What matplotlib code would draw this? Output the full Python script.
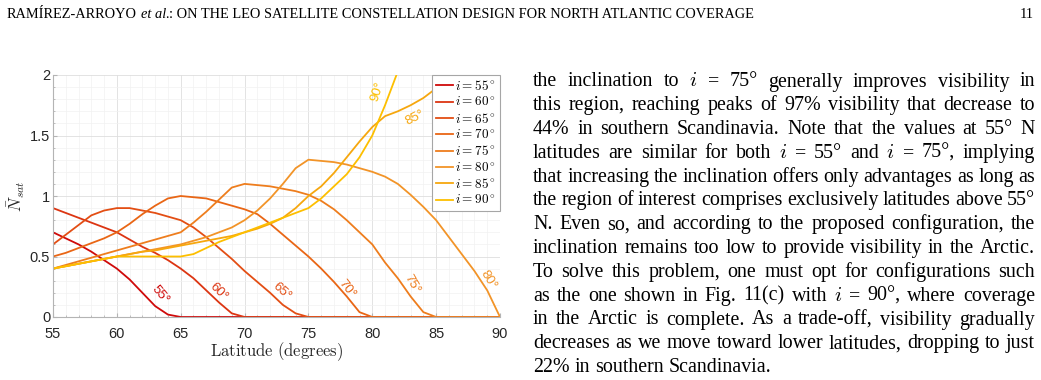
import matplotlib
matplotlib.use('Agg')
import matplotlib.pyplot as plt
from matplotlib.ticker import MultipleLocator, FuncFormatter

plt.rcParams['mathtext.fontset'] = 'cm'

# ---- data ----
lat = [55, 56, 57, 58, 59, 60, 61, 62, 63, 64, 65, 66, 67, 68, 69, 70, 71, 72,
       73, 74, 75, 76, 77, 78, 79, 80, 81, 82, 83, 84, 85, 86, 87, 88, 89, 90]

inclinations = [55, 60, 65, 70, 75, 80, 85, 90]

n_i55 = [0.70, 0.65, 0.60, 0.54, 0.47, 0.40, 0.31, 0.20, 0.09, 0.02, 0, 0, 0, 0, 0, 0, 0, 0,
         0, 0, 0, 0, 0, 0, 0, 0, 0, 0, 0, 0, 0, 0, 0, 0, 0, 0]
n_i60 = [0.90, 0.86, 0.82, 0.78, 0.74, 0.70, 0.64, 0.58, 0.53, 0.47, 0.40, 0.32, 0.22, 0.12, 0.03, 0, 0, 0,
         0, 0, 0, 0, 0, 0, 0, 0, 0, 0, 0, 0, 0, 0, 0, 0, 0, 0]
n_i65 = [0.60, 0.68, 0.76, 0.84, 0.88, 0.90, 0.90, 0.88, 0.86, 0.83, 0.80, 0.74, 0.66, 0.57, 0.48, 0.38, 0.29, 0.20,
         0.10, 0.03, 0, 0, 0, 0, 0, 0, 0, 0, 0, 0, 0, 0, 0, 0, 0, 0]
n_i70 = [0.50, 0.53, 0.57, 0.61, 0.65, 0.70, 0.77, 0.85, 0.92, 0.98, 1.00, 0.99, 0.98, 0.95, 0.92, 0.89, 0.85, 0.77,
         0.68, 0.59, 0.50, 0.40, 0.29, 0.17, 0.04, 0, 0, 0, 0, 0, 0, 0, 0, 0, 0, 0]
n_i75 = [0.40, 0.43, 0.46, 0.49, 0.52, 0.55, 0.58, 0.61, 0.64, 0.67, 0.70, 0.78, 0.87, 0.97, 1.07, 1.10, 1.09, 1.08,
         1.06, 1.04, 1.01, 0.96, 0.89, 0.80, 0.70, 0.60, 0.45, 0.32, 0.17, 0.04, 0, 0, 0, 0, 0, 0]
n_i80 = [0.40, 0.42, 0.44, 0.46, 0.48, 0.50, 0.52, 0.54, 0.56, 0.58, 0.60, 0.63, 0.66, 0.70, 0.74, 0.80, 0.88, 0.98,
         1.10, 1.23, 1.30, 1.29, 1.28, 1.26, 1.23, 1.20, 1.16, 1.10, 1.01, 0.91, 0.80, 0.66, 0.52, 0.38, 0.22, 0.00]
n_i85 = [0.40, 0.42, 0.44, 0.46, 0.48, 0.50, 0.52, 0.54, 0.55, 0.57, 0.59, 0.61, 0.63, 0.65, 0.67, 0.70, 0.73, 0.77,
         0.82, 0.90, 1.00, 1.08, 1.19, 1.32, 1.45, 1.57, 1.66, 1.70, 1.75, 1.81, 1.89, 1.95, 2.01, 2.07, 2.12, 2.17]
n_i90 = [0.40, 0.42, 0.44, 0.46, 0.48, 0.50, 0.50, 0.50, 0.50, 0.50, 0.50, 0.52, 0.57, 0.62, 0.66, 0.70, 0.74, 0.78,
         0.82, 0.86, 0.90, 0.98, 1.08, 1.18, 1.32, 1.50, 1.75, 2.03, 2.35, 2.70, 3.05, 3.45, 3.90, 4.40, 4.95, 5.55]

series = [n_i55, n_i60, n_i65, n_i70, n_i75, n_i80, n_i85, n_i90]
colors = ['#cf0a0a', '#dc3512', '#e34e14', '#e96615', '#ee7d1d', '#f29428', '#f6a70e', '#fdbf00']

# in-plot curve labels: (latitude, value, rotation)
curve_labels = [(63.4, 0.18, -50), (68.0, 0.21, -45), (72.9, 0.21, -42), (78.0, 0.23, -52),
                (83.1, 0.27, -60), (89.1, 0.31, -58), (83.3, 1.65, 27), (80.4, 1.86, 72)]

W, H = 1041, 380
fig = plt.figure(figsize=(W / 100, H / 100), dpi=100)

ax = fig.add_axes([53 / W, 1 - 317 / H, 447 / W, 242 / H])
for inc, vals, col in zip(inclinations, series, colors):
    ax.plot(lat, vals, color=col, lw=1.3, label=r'$i = %d^\circ$' % inc)

ax.set_xlim(55, 90)
ax.set_ylim(0, 2)
ax.xaxis.set_major_locator(MultipleLocator(5))
ax.xaxis.set_minor_locator(MultipleLocator(1))
ax.yaxis.set_major_locator(MultipleLocator(0.5))
ax.yaxis.set_minor_locator(MultipleLocator(0.1))
ax.yaxis.set_major_formatter(FuncFormatter(lambda v, p: '%g' % v))
ax.grid(which='major', color='#dedede', lw=0.6)
ax.grid(which='minor', color='#f1f1f1', lw=0.5)
ax.set_axisbelow(True)
for s in ['top', 'right']:
    ax.spines[s].set_visible(False)
for s in ['left', 'bottom']:
    ax.spines[s].set_color('#b4b4b4')
    ax.spines[s].set_linewidth(0.8)
ax.tick_params(which='both', direction='in', colors='#b4b4b4', labelcolor='#262626')
ax.tick_params(which='major', length=3, labelsize=10.5)
ax.tick_params(which='minor', length=1.5)
ax.tick_params(axis='x', pad=7)
ax.tick_params(axis='y', pad=2)
for lab in ax.get_xticklabels() + ax.get_yticklabels():
    lab.set_family('Liberation Sans')

ax.set_xlabel(r'$\mathrm{Latitude\ (degrees)}$', fontsize=12, color='#262626', labelpad=0)
ax.set_ylabel(r'$\bar{N}_{sat}$', fontsize=12, color='#262626', va='center')
ax.yaxis.set_label_coords(-0.083, 0.5)

for (x, y, rot), inc, col in zip(curve_labels, inclinations, colors):
    ax.text(x, y, '%d°' % inc, color=col, rotation=rot, ha='center', va='center',
            fontsize=9.5, family='Liberation Sans', rotation_mode='anchor')

leg = ax.legend(loc='upper right', fontsize=9.5, frameon=True, fancybox=False,
                edgecolor='#a6a6a6', framealpha=1, borderaxespad=0, handlelength=1.3,
                handletextpad=0.15, labelspacing=0.18, borderpad=0.3)
leg.get_frame().set_linewidth(0.8)

# ---- page text ----
renderer = fig.canvas.get_renderer()
SERIF = 'Liberation Serif'


def put(x, y, s, size, style='normal'):
    return fig.text(x / W, 1 - y / H, s, fontsize=size, family=SERIF, style=style,
                    ha='left', va='baseline', color='black')


def width(t):
    return t.get_window_extent(renderer).width


# header, fitted to the running-head width
pieces = [('RAMÍREZ-ARROYO', 'normal', 0.25), ('et al.', 'italic', 0.0),
          (': ON THE LEO SATELLITE CONSTELLATION DESIGN FOR NORTH ATLANTIC COVERAGE', 'normal', 0)]
hsize = 8.4
trial = [put(0, -50, s, hsize, st) for s, st, g in pieces]
natural = sum(width(t) for t in trial) + 0.25 * hsize * 100 / 72
for t in trial:
    t.remove()
hsize = hsize * 740 / natural
x = 7
for s, st, gap in pieces:
    t = put(x, 17.5, s, hsize, st)
    x += width(t) + gap * hsize * 100 / 72
fig.text(1034 / W, 1 - 17.5 / H, '11', fontsize=hsize, family=SERIF, ha='right', va='baseline')

# paragraph (justified)
par = [
    "the inclination to *i* = 75° generally improves visibility in",
    "this region, reaching peaks of 97% visibility that decrease to",
    "44% in southern Scandinavia. Note that the values at 55° N",
    "latitudes are similar for both *i* = 55° and *i* = 75°, implying",
    "that increasing the inclination offers only advantages as long as",
    "the region of interest comprises exclusively latitudes above 55°",
    "N. Even so, and according to the proposed configuration, the",
    "inclination remains too low to provide visibility in the Arctic.",
    "To solve this problem, one must opt for configurations such",
    "as the one shown in Fig. 11(c) with *i* = 90°, where coverage",
    "in the Arctic is complete. As a trade-off, visibility gradually",
    "decreases as we move toward lower latitudes, dropping to just",
    "22% in southern Scandinavia.",
]
psize = 14.4
x0, x1 = 533, 1035
y0, dy = 86.5, 23.8
for k, line in enumerate(par):
    y = y0 + k * dy
    ts = []
    for w in line.split(' '):
        if w == '*i*':
            t = fig.text(0, 1 - y / H, r'$i$', fontsize=psize + 0.6, ha='left', va='baseline')
        else:
            t = put(0, y, w, psize)
        ts.append(t)
    ws = [width(t) for t in ts]
    if k < len(par) - 1:
        gap = (x1 - x0 - sum(ws)) / (len(ts) - 1)
    else:
        gap = 0.25 * psize * 100 / 72
    x = x0
    for t, w in zip(ts, ws):
        t.set_x(x / W)
        x += w + gap

fig.savefig('out.png', dpi=100)
